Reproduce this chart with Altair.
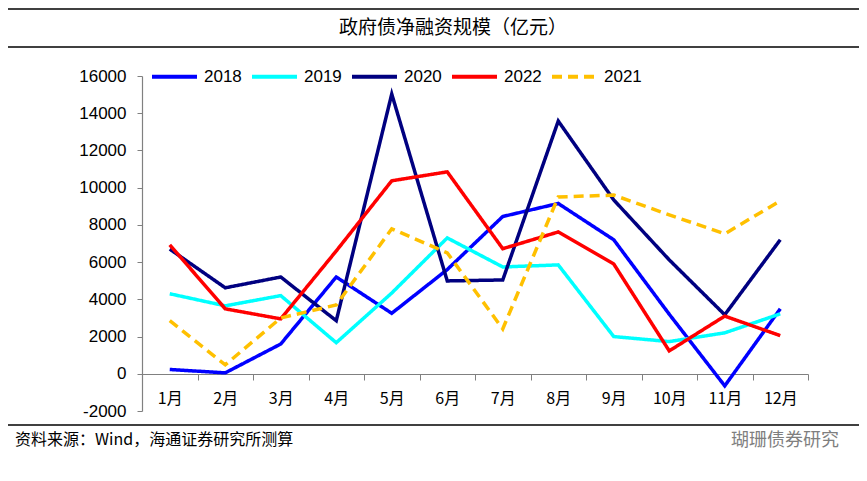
import altair as alt
import pandas as pd

months = ["1月", "2月", "3月", "4月", "5月", "6月", "7月", "8月", "9月", "10月", "11月", "12月"]
years = ["2018", "2019", "2020", "2022", "2021"]
colors = ["#0000FF", "#00FFFF", "#000080", "#FF0000", "#FFC000"]
dashes = [[1, 0], [1, 0], [1, 0], [1, 0], [10, 6]]

v2018 = [230, 50, 1600, 5200, 3250, 5600, 8450, 9150, 7200, 3200, -650, 3490]
v2019 = [4300, 3650, 4200, 1670, 4340, 7300, 5740, 5850, 2000, 1730, 2200, 3220]
v2020 = [6700, 4620, 5200, 2850, 15030, 4990, 5040, 13580, 9340, 6120, 3170, 7200]
v2022 = [6930, 3490, 2950, 6600, 10370, 10850, 6720, 7620, 5900, 1230, 3100, 2050]
v2021 = [2850, 480, 3000, 3700, 7790, 6500, 2410, 9500, 9600, 8540, 7520, 9290]

series = {"2018": v2018, "2019": v2019, "2020": v2020, "2022": v2022, "2021": v2021}
rows = []
for y in years:
    for m, v in zip(months, series[y]):
        rows.append({"month": m, "year": y, "value": v})
df = pd.DataFrame(rows)

W, H = 666, 335
FONT = "Liberation Sans"
CJK = "Noto Sans CJK SC"

leg = dict(title=None, orient="none", legendX=8, legendY=-24,
           direction="horizontal", columns=5,
           symbolType="stroke", symbolSize=2025,
           symbolStrokeWidth=4, labelFontSize=17,
           labelFont=FONT, labelColor="#000000",
           columnPadding=2, labelOffset=5)

lines = alt.Chart(df).mark_line(strokeWidth=3.5, clip=False).encode(
    x=alt.X("month:N", sort=months,
            scale=alt.Scale(type="band", paddingInner=0, paddingOuter=0),
            axis=alt.Axis(title=None, labelAngle=0, offset=-37, tickBand="extent",
                          tickSize=6, labelPadding=10, labelFontSize=16, labelFont=CJK,
                          labelColor="#000000", domainColor="#808080", tickColor="#808080",
                          domainWidth=1.2, grid=False)),
    y=alt.Y("value:Q", scale=alt.Scale(domain=[-2000, 16000], nice=False, zero=False),
            axis=alt.Axis(title=None, values=list(range(-2000, 16001, 2000)),
                          labelExpr="toString(datum.value)",
                          tickSize=5, labelPadding=11, labelFontSize=17, labelFont=FONT,
                          labelColor="#000000", domainColor="#808080", tickColor="#808080",
                          domainWidth=1.2, grid=False)),
    color=alt.Color("year:N", scale=alt.Scale(domain=years, range=colors),
                    legend=alt.Legend(**leg)),
    strokeDash=alt.StrokeDash("year:N", scale=alt.Scale(domain=years, range=dashes),
                              legend=alt.Legend(**leg)),
    order=alt.Order("year:N"),
)

title_df = pd.DataFrame({"t": ["政府债净融资规模（亿元）"]})
title = alt.Chart(title_df).mark_text(fontSize=19, font=CJK, color="#000000", align="center",
                                      baseline="middle").encode(
    text="t:N", x=alt.value(311), y=alt.value(-48))

src_df = pd.DataFrame({"t": ["资料来源：Wind，海通证券研究所测算"]})
src = alt.Chart(src_df).mark_text(fontSize=16, font=CJK, color="#000000", align="left",
                                  baseline="middle").encode(
    text="t:N", x=alt.value(-127), y=alt.value(364))

wm_df = pd.DataFrame({"t": ["瑚珊债券研究"]})
wm = alt.Chart(wm_df).mark_text(fontSize=18, font=CJK, color="#7f7f7f", align="right",
                                baseline="middle").encode(
    text="t:N", x=alt.value(697), y=alt.value(365))

rule_df = pd.DataFrame({"r": [0]})
def hline(yy):
    return alt.Chart(rule_df).mark_rule(color="#000000", strokeWidth=1.5).encode(
        x=alt.value(-134), x2=alt.value(717), y=alt.value(yy))

chart = alt.layer(
    hline(-67), hline(-29), hline(349), title, src, wm, lines
).properties(
    width=W, height=H,
    autosize=alt.AutoSizeParams(type="none"),
    padding={"left": 134, "top": 68, "right": 51, "bottom": 62},
).configure_view(stroke=None).resolve_scale(color="shared")

chart.save("out.html", embed_options={"renderer": "svg", "actions": False})
